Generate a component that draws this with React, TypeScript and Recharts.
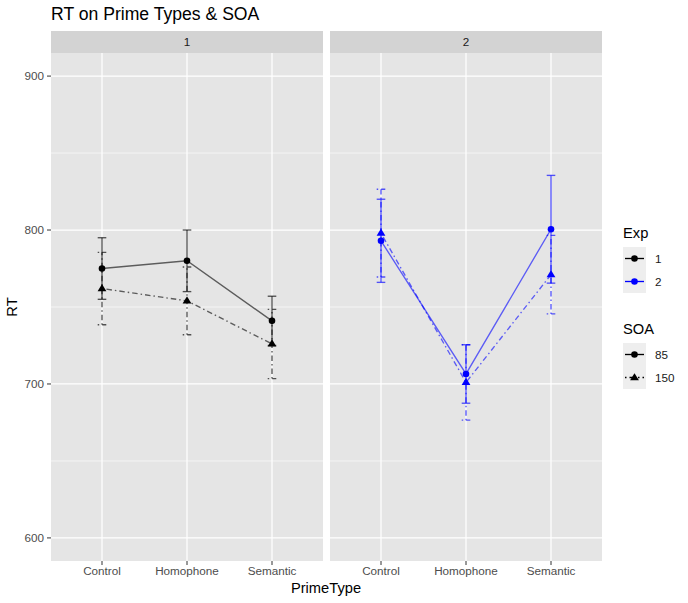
import React from "react";
import {
  ComposedChart,
  Line,
  XAxis,
  YAxis,
  CartesianGrid,
  ErrorBar,
} from "recharts";

const primeTypes = ["Control", "Homophone", "Semantic"];
const experiments = ["1", "2"];
const soaLevels = ["85", "150"];
const rtTicks = [600, 700, 800, 900];
const rtMinor = [650, 750, 850];

// mean RT and error half-width, per prime type
const exp1Soa85 = [775, 780, 741];
const exp1Soa85Err = [20, 20, 16];
const exp1Soa150 = [762, 754, 726];
const exp1Soa150Err = [23.5, 22, 22.5];
const exp2Soa85 = [793, 706.5, 800.5];
const exp2Soa85Err = [27, 19, 35];
const exp2Soa150 = [798, 701, 771];
const exp2Soa150Err = [28.5, 24.5, 25.5];

const EXP_COLOR: Record<string, string> = { "1": "#000000", "2": "#0000FF" };
const DOTDASH = "1.5 3 5.5 3";
const FONT = '"Liberation Sans", Arial, sans-serif';
const LINE_W = 1.35;

const PANEL_H = 508;
const CHART_H = PANEL_H + 30;

function buildRows(m85: number[], e85: number[], m150: number[], e150: number[]) {
  return primeTypes.map((_, i) => ({
    x: i + 1,
    m85: m85[i],
    e85: e85[i],
    m150: m150[i],
    e150: e150[i],
  }));
}

const panelData: Record<string, ReturnType<typeof buildRows>> = {
  "1": buildRows(exp1Soa85, exp1Soa85Err, exp1Soa150, exp1Soa150Err),
  "2": buildRows(exp2Soa85, exp2Soa85Err, exp2Soa150, exp2Soa150Err),
};

function TriangleDot(props: any) {
  const { cx, cy, fill, index } = props;
  if (cx == null || cy == null) return <g key={`t-${index}`} />;
  return (
    <polygon
      key={`t-${index}`}
      points={`${cx},${cy - 4.6} ${cx - 4.4},${cy + 2.6} ${cx + 4.4},${cy + 2.6}`}
      fill={fill}
    />
  );
}

function CircleDot(props: any) {
  const { cx, cy, fill, index } = props;
  if (cx == null || cy == null) return <g key={`c-${index}`} />;
  return <circle key={`c-${index}`} cx={cx} cy={cy} r={3.3} fill={fill} />;
}

function Panel({ exp, showY }: { exp: string; showY: boolean }) {
  const color = EXP_COLOR[exp];
  const width = showY ? 323 : 272;
  return (
    <ComposedChart
      width={width}
      height={CHART_H}
      data={panelData[exp]}
      margin={{ top: 0, right: 0, bottom: 0, left: 0 }}
    >
      <CartesianGrid
        fill="#E5E5E5"
        stroke="#FFFFFF"
        strokeWidth={0.6}
        vertical={false}
        horizontalValues={rtMinor}
      />
      <CartesianGrid
        stroke="#FFFFFF"
        strokeWidth={1.2}
        horizontalValues={rtTicks}
        verticalValues={[1, 2, 3]}
      />
      <XAxis
        dataKey="x"
        type="number"
        domain={[0.4, 3.6]}
        ticks={[1, 2, 3]}
        tickFormatter={(v: number) => primeTypes[v - 1]}
        axisLine={false}
        tickLine={{ stroke: "#333333" }}
        tickSize={4}
        tickMargin={2}
        height={30}
        tick={{ fontSize: 11.7, fill: "#4D4D4D" }}
        allowDataOverflow
      />
      <YAxis
        type="number"
        domain={[585, 915]}
        ticks={rtTicks}
        hide={!showY}
        width={showY ? 51 : 0}
        axisLine={false}
        tickLine={{ stroke: "#333333" }}
        tickSize={4}
        tickMargin={3}
        tick={{ fontSize: 11.7, fill: "#4D4D4D" }}
        allowDataOverflow
      />
      <Line
        dataKey="m150"
        stroke={color}
        strokeOpacity={0.6}
        strokeWidth={LINE_W}
        strokeDasharray={DOTDASH}
        fill={color}
        dot={(p: any) => <TriangleDot {...p} fill={color} />}
        activeDot={false}
        isAnimationActive={false}
      >
        <ErrorBar
          dataKey="e150"
          width={4.3}
          stroke={color}
          strokeOpacity={0.65}
          strokeWidth={LINE_W}
          strokeDasharray={DOTDASH}
          isAnimationActive={false}
        />
      </Line>
      <Line
        dataKey="m85"
        stroke={color}
        strokeOpacity={0.6}
        strokeWidth={LINE_W}
        fill={color}
        dot={(p: any) => <CircleDot {...p} fill={color} />}
        activeDot={false}
        isAnimationActive={false}
      >
        <ErrorBar
          dataKey="e85"
          width={4.3}
          stroke={color}
          strokeOpacity={0.65}
          strokeWidth={LINE_W}
          isAnimationActive={false}
        />
      </Line>
    </ComposedChart>
  );
}

function LegendKey({
  color,
  shape,
  dashed,
}: {
  color: string;
  shape: "circle" | "triangle";
  dashed?: boolean;
}) {
  return (
    <svg width={23} height={23} style={{ display: "block", background: "#EEEEEE" }}>
      <line
        x1={2}
        x2={21}
        y1={11.5}
        y2={11.5}
        stroke={color}
        strokeWidth={LINE_W}
        strokeDasharray={dashed ? DOTDASH : undefined}
      />
      {shape === "circle" ? (
        <circle cx={11.5} cy={11.5} r={3.3} fill={color} />
      ) : (
        <polygon points="11.5,7.2 7.1,14.2 15.9,14.2" fill={color} />
      )}
    </svg>
  );
}

function LegendBlock({
  title,
  top,
  items,
}: {
  title: string;
  top: number;
  items: { label: string; color: string; shape: "circle" | "triangle"; dashed?: boolean }[];
}) {
  return (
    <div style={{ position: "absolute", left: 623, top }}>
      <div style={{ fontSize: 14.7, color: "#000", lineHeight: "17px", marginBottom: 5 }}>
        {title}
      </div>
      {items.map((it) => (
        <div key={it.label} style={{ display: "flex", alignItems: "center", height: 23 }}>
          <LegendKey color={it.color} shape={it.shape} dashed={it.dashed} />
          <span style={{ marginLeft: 9, fontSize: 11.7, color: "#1A1A1A" }}>{it.label}</span>
        </div>
      ))}
    </div>
  );
}

export default function App() {
  const stripStyle: React.CSSProperties = {
    position: "absolute",
    top: 31,
    height: 22,
    background: "#D3D3D3",
    color: "#1A1A1A",
    fontSize: 11.7,
    lineHeight: "22px",
    textAlign: "center",
  };
  return (
    <div
      style={{
        position: "absolute",
        left: 0,
        top: 0,
        width: 688,
        height: 603,
        background: "#FFFFFF",
        fontFamily: FONT,
      }}
    >
      <div
        style={{
          position: "absolute",
          left: 51,
          top: 4,
          fontSize: 17.6,
          color: "#000",
          whiteSpace: "nowrap",
        }}
      >
        RT on Prime Types &amp; SOA
      </div>

      <div style={{ ...stripStyle, left: 51, width: 272 }}>{experiments[0]}</div>
      <div style={{ ...stripStyle, left: 330, width: 272 }}>{experiments[1]}</div>

      <div style={{ position: "absolute", left: 0, top: 53 }}>
        <Panel exp="1" showY />
      </div>
      <div style={{ position: "absolute", left: 330, top: 53 }}>
        <Panel exp="2" showY={false} />
      </div>

      <div
        style={{
          position: "absolute",
          left: 12,
          top: 307,
          transform: "translate(-50%, -50%) rotate(-90deg)",
          fontSize: 14.7,
          color: "#000",
        }}
      >
        RT
      </div>
      <div
        style={{
          position: "absolute",
          left: 326,
          top: 580,
          transform: "translateX(-50%)",
          fontSize: 14.7,
          color: "#000",
          whiteSpace: "nowrap",
        }}
      >
        PrimeType
      </div>

      <LegendBlock
        title="Exp"
        top={225}
        items={experiments.map((e) => ({ label: e, color: EXP_COLOR[e], shape: "circle" as const }))}
      />
      <LegendBlock
        title="SOA"
        top={321}
        items={soaLevels.map((s, i) => ({
          label: s,
          color: "#000000",
          shape: i === 0 ? ("circle" as const) : ("triangle" as const),
          dashed: i === 1,
        }))}
      />
    </div>
  );
}
